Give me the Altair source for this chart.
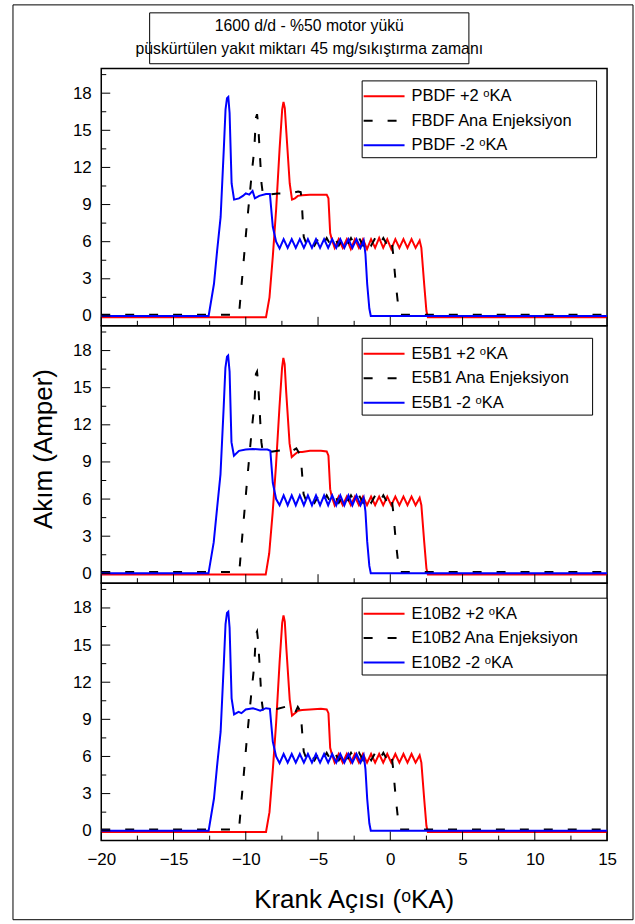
import altair as alt
import pandas as pd

FONT = "Liberation Sans"
X_DOMAIN = [-20, 15]
Y_DOMAIN = [-0.8, 20]
X_LABELS = [-20, -15, -10, -5, 0, 5, 10, 15]
X_MINOR = [-17.5, -12.5, -7.5, -2.5, 2.5, 7.5, 12.5]
Y_LABELS = [0, 3, 6, 9, 12, 15, 18]
Y_MINOR = [1.5, 4.5, 7.5, 10.5, 13.5, 16.5, 19.5]

TITLE_LINES = ["1600 d/d - %50 motor yükü",
               "püskürtülen yakıt miktarı 45 mg/sıkıştırma zamanı"]
X_TITLE = "Krank Açısı (ᵒKA)"
Y_TITLE = "Akım (Amper)"

LEG1 = ["PBDF +2 ᵒKA", "FBDF Ana Enjeksiyon", "PBDF -2 ᵒKA"]
LEG2 = ["E5B1 +2 ᵒKA", "E5B1 Ana Enjeksiyon", "E5B1 -2 ᵒKA"]
LEG3 = ["E10B2 +2 ᵒKA", "E10B2 Ana Enjeksiyon", "E10B2 -2 ᵒKA"]

# [crank angle, current] pairs
P1_RED = [[-20, -0.1], [-8.60, -0.1], [-8.36, 1.5], [-8.13, 4.8], [-7.90, 8.6], [-7.66, 13.5], [-7.48, 16.7],
          [-7.39, 17.3], [-7.30, 16.8], [-7.19, 14.8], [-6.96, 10.7], [-6.80, 9.4], [-6.60, 9.5], [-6.40, 9.7],
          [-6.10, 9.75], [-5.56, 9.8], [-4.80, 9.8], [-4.40, 9.8], [-4.28, 9.5], [-4.16, 6.7], [-4.05, 6.2],
          [-3.85, 5.5], [-3.57, 6.2], [-3.29, 5.5], [-3.01, 6.2], [-2.73, 5.4], [-2.45, 6.2], [-2.17, 5.5],
          [-1.89, 6.2], [-1.61, 5.4], [-1.33, 6.2], [-1.05, 5.5], [-0.77, 6.3], [-0.49, 5.5], [-0.21, 6.2],
          [0.07, 5.4], [0.35, 6.2], [0.63, 5.5], [0.91, 6.2], [1.19, 5.5], [1.47, 6.2], [1.75, 5.5], [2.03, 6.1],
          [2.15, 5.5], [2.35, 2.5], [2.50, 0.4], [2.60, -0.1], [15, -0.1]]
P1_BLACK = [[-20, 0.1], [-10.47, 0.1], [-10.30, 2.4], [-10.12, 4.8], [-9.95, 7.1], [-9.76, 9.4], [-9.58, 11.6],
            [-9.41, 13.5], [-9.30, 16.0], [-9.22, 16.3], [-9.15, 15.6], [-9.07, 14.0], [-8.91, 10.7], [-8.79, 9.6],
            [-8.60, 9.7], [-8.36, 9.8], [-7.78, 9.9], [-6.96, 9.9], [-6.38, 10.05], [-6.20, 10.0], [-6.14, 9.5],
            [-6.07, 8.0], [-5.99, 6.4], [-5.80, 5.8], [-5.52, 6.3], [-5.24, 5.7], [-4.96, 6.3], [-4.68, 5.7],
            [-4.40, 6.3], [-4.12, 5.7], [-3.84, 6.3], [-3.56, 5.7], [-3.28, 6.3], [-3.00, 5.7], [-2.72, 6.3],
            [-2.44, 5.7], [-2.16, 6.3], [-1.88, 5.7], [-1.60, 6.3], [-1.32, 5.7], [-1.04, 6.3], [-0.76, 5.7],
            [-0.48, 6.3], [-0.20, 5.7], [0.08, 6.2], [0.20, 5.0], [0.38, 2.6], [0.54, 0.9], [0.62, 0.1], [15, 0.1]]
P1_BLUE = [[-20, 0], [-12.57, 0], [-12.20, 2.6], [-11.98, 5.3], [-11.74, 8.0], [-11.52, 13.5], [-11.40, 16.7],
           [-11.30, 17.6], [-11.21, 17.7], [-11.12, 16.4], [-10.98, 10.7], [-10.81, 9.4], [-10.47, 9.5],
           [-10.20, 9.7], [-10.00, 9.9], [-9.76, 9.8], [-9.53, 10.1], [-9.37, 9.5], [-9.07, 9.7], [-8.60, 9.85],
           [-8.33, 9.85], [-8.13, 7.2], [-7.90, 6.0], [-7.66, 5.45], [-7.38, 6.2], [-7.10, 5.5], [-6.82, 6.2],
           [-6.54, 5.5], [-6.26, 6.2], [-5.98, 5.5], [-5.70, 6.2], [-5.42, 5.5], [-5.14, 6.2], [-4.86, 5.5],
           [-4.58, 6.2], [-4.30, 5.5], [-4.02, 6.2], [-3.74, 5.5], [-3.46, 6.2], [-3.18, 5.5], [-2.90, 6.2],
           [-2.62, 5.5], [-2.34, 6.2], [-2.06, 5.5], [-1.84, 6.1], [-1.72, 5.0], [-1.60, 2.6], [-1.45, 0.6],
           [-1.35, 0], [15, 0]]

P2_RED = [[-20, -0.1], [-8.62, -0.1], [-8.38, 1.6], [-8.14, 4.9], [-7.91, 8.7], [-7.67, 13.4], [-7.49, 16.6],
          [-7.40, 17.4], [-7.31, 16.9], [-7.20, 14.6], [-6.97, 10.5], [-6.82, 9.4], [-6.62, 9.6], [-6.40, 9.8],
          [-6.10, 9.8], [-5.56, 9.9], [-4.80, 9.9], [-4.40, 9.85], [-4.28, 9.5], [-4.16, 6.8], [-4.05, 6.2],
          [-3.85, 5.5], [-3.57, 6.2], [-3.29, 5.5], [-3.01, 6.2], [-2.73, 5.5], [-2.45, 6.2], [-2.17, 5.5],
          [-1.89, 6.2], [-1.61, 5.5], [-1.33, 6.2], [-1.05, 5.5], [-0.77, 6.2], [-0.49, 5.5], [-0.21, 6.2],
          [0.07, 5.5], [0.35, 6.2], [0.63, 5.5], [0.91, 6.2], [1.19, 5.5], [1.47, 6.2], [1.75, 5.5], [2.03, 6.1],
          [2.15, 5.5], [2.35, 2.5], [2.50, 0.4], [2.60, -0.1], [15, -0.1]]
P2_BLACK = [[-20, 0.1], [-10.45, 0.1], [-10.28, 2.5], [-10.10, 4.9], [-9.93, 7.2], [-9.75, 9.5], [-9.57, 11.8],
            [-9.40, 13.7], [-9.30, 16.1], [-9.22, 16.3], [-9.15, 15.5], [-9.07, 13.8], [-8.92, 10.6], [-8.80, 9.6],
            [-8.60, 9.7], [-8.36, 9.8], [-7.78, 9.9], [-7.20, 10.0], [-6.90, 9.8], [-6.50, 10.1], [-6.20, 9.5],
            [-6.10, 8.0], [-6.00, 6.4], [-5.80, 5.8], [-5.52, 6.3], [-5.24, 5.7], [-4.96, 6.3], [-4.68, 5.7],
            [-4.40, 6.3], [-4.12, 5.7], [-3.84, 6.3], [-3.56, 5.7], [-3.28, 6.3], [-3.00, 5.7], [-2.72, 6.3],
            [-2.44, 5.7], [-2.16, 6.3], [-1.88, 5.7], [-1.60, 6.3], [-1.32, 5.7], [-1.04, 6.3], [-0.76, 5.7],
            [-0.48, 6.3], [-0.20, 5.7], [0.08, 6.2], [0.20, 5.0], [0.38, 2.6], [0.54, 0.9], [0.62, 0.1], [15, 0.1]]
P2_BLUE = [[-20, 0], [-12.58, 0], [-12.22, 2.5], [-11.99, 5.2], [-11.75, 8.0], [-11.53, 13.4], [-11.41, 16.6],
           [-11.30, 17.5], [-11.22, 17.6], [-11.12, 16.3], [-10.99, 10.6], [-10.82, 9.5], [-10.47, 9.9],
           [-10.00, 10.0], [-9.50, 10.05], [-9.00, 10.0], [-8.50, 10.0], [-8.30, 9.9], [-8.13, 7.3], [-7.90, 6.0],
           [-7.66, 5.5], [-7.38, 6.3], [-7.10, 5.5], [-6.82, 6.3], [-6.54, 5.5], [-6.26, 6.3], [-5.98, 5.5],
           [-5.70, 6.3], [-5.42, 5.5], [-5.14, 6.3], [-4.86, 5.5], [-4.58, 6.3], [-4.30, 5.5], [-4.02, 6.3],
           [-3.74, 5.5], [-3.46, 6.3], [-3.18, 5.5], [-2.90, 6.3], [-2.62, 5.5], [-2.34, 6.3], [-2.06, 5.5],
           [-1.84, 6.1], [-1.72, 5.0], [-1.60, 2.6], [-1.45, 0.6], [-1.35, 0], [15, 0]]

P3_RED = [[-20, -0.1], [-8.60, -0.1], [-8.36, 1.5], [-8.13, 4.9], [-7.90, 8.7], [-7.66, 13.6], [-7.48, 16.8],
          [-7.39, 17.4], [-7.30, 16.9], [-7.19, 14.7], [-6.96, 10.6], [-6.80, 9.3], [-6.60, 9.5], [-6.40, 9.7],
          [-6.10, 9.75], [-5.56, 9.8], [-4.80, 9.85], [-4.40, 9.8], [-4.28, 9.5], [-4.16, 6.7], [-4.05, 6.2],
          [-3.85, 5.5], [-3.57, 6.2], [-3.29, 5.5], [-3.01, 6.2], [-2.73, 5.5], [-2.45, 6.2], [-2.17, 5.5],
          [-1.89, 6.2], [-1.61, 5.5], [-1.33, 6.2], [-1.05, 5.5], [-0.77, 6.2], [-0.49, 5.5], [-0.21, 6.2],
          [0.07, 5.5], [0.35, 6.2], [0.63, 5.5], [0.91, 6.2], [1.19, 5.5], [1.47, 6.2], [1.75, 5.5], [2.03, 6.1],
          [2.15, 5.5], [2.35, 2.5], [2.50, 0.4], [2.60, -0.1], [15, -0.1]]
P3_BLACK = [[-20, 0.1], [-10.47, 0.1], [-10.30, 2.4], [-10.12, 4.8], [-9.95, 7.1], [-9.76, 9.4], [-9.58, 11.5],
            [-9.41, 13.4], [-9.30, 15.9], [-9.22, 16.1], [-9.15, 15.4], [-9.07, 13.9], [-8.91, 10.6], [-8.79, 9.6],
            [-8.60, 9.7], [-8.36, 9.8], [-7.78, 9.85], [-7.00, 10.1], [-6.80, 9.7], [-6.60, 9.5], [-6.40, 10.0],
            [-6.20, 9.6], [-6.10, 8.0], [-5.99, 6.4], [-5.80, 5.8], [-5.52, 6.3], [-5.24, 5.7], [-4.96, 6.3],
            [-4.68, 5.7], [-4.40, 6.3], [-4.12, 5.7], [-3.84, 6.3], [-3.56, 5.7], [-3.28, 6.3], [-3.00, 5.7],
            [-2.72, 6.3], [-2.44, 5.7], [-2.16, 6.3], [-1.88, 5.7], [-1.60, 6.3], [-1.32, 5.7], [-1.04, 6.3],
            [-0.76, 5.7], [-0.48, 6.3], [-0.20, 5.7], [0.08, 6.2], [0.20, 5.0], [0.38, 2.6], [0.54, 0.9],
            [0.62, 0.1], [15, 0.1]]
P3_BLUE = [[-20, 0], [-12.57, 0], [-12.20, 2.6], [-11.98, 5.3], [-11.74, 8.0], [-11.52, 13.5], [-11.40, 16.7],
           [-11.30, 17.6], [-11.21, 17.7], [-11.12, 16.4], [-10.98, 10.7], [-10.81, 9.4], [-10.50, 9.6],
           [-10.30, 9.5], [-10.00, 9.8], [-9.50, 9.9], [-9.00, 9.7], [-8.60, 9.9], [-8.33, 9.85], [-8.13, 7.2],
           [-7.90, 6.0], [-7.66, 5.45], [-7.38, 6.2], [-7.10, 5.5], [-6.82, 6.2], [-6.54, 5.5], [-6.26, 6.2],
           [-5.98, 5.5], [-5.70, 6.2], [-5.42, 5.5], [-5.14, 6.2], [-4.86, 5.5], [-4.58, 6.2], [-4.30, 5.5],
           [-4.02, 6.2], [-3.74, 5.5], [-3.46, 6.2], [-3.18, 5.5], [-2.90, 6.2], [-2.62, 5.5], [-2.34, 6.2],
           [-2.06, 5.5], [-1.84, 6.1], [-1.72, 5.0], [-1.60, 2.6], [-1.45, 0.6], [-1.35, 0], [15, 0]]

RED = "#ff0000"
BLUE = "#0000ff"
BLACK = "#000000"
DASH = [9, 15]

W = 507
H = 258

xsc = alt.Scale(domain=X_DOMAIN, nice=False, zero=False)
ysc = alt.Scale(domain=Y_DOMAIN, nice=False, zero=False)
ONE = pd.DataFrame({"k": [0]})


def x_axis(labels):
    if not labels:
        return None
    return alt.Axis(values=X_LABELS, title=None, labelFontSize=17, labelPadding=11,
                    labelFlush=False, labelOverlap=False)


Y_AXIS = alt.Axis(values=Y_LABELS, title=None, labelFontSize=17, labelPadding=10,
                  labelFlush=False, labelOverlap=False)


def series(pairs, color, dashed, xl):
    df = pd.DataFrame(pairs, columns=["x", "y"])
    kw = dict(color=color, strokeWidth=2, clip=True)
    if dashed:
        kw["strokeDash"] = DASH
    return alt.Chart(df).mark_line(**kw).encode(
        x=alt.X("x:Q", scale=xsc, axis=x_axis(xl)),
        y=alt.Y("y:Q", scale=ysc, axis=Y_AXIS))


def xticks(vals, length, xl):
    return alt.Chart(pd.DataFrame({"x": vals})).mark_rule(color="black", strokeWidth=1).encode(
        x=alt.X("x:Q", scale=xsc, axis=x_axis(xl)), y=alt.value(H), y2=alt.value(H - length))


def yticks(vals, length):
    return alt.Chart(pd.DataFrame({"y": vals})).mark_rule(color="black", strokeWidth=1).encode(
        y=alt.Y("y:Q", scale=ysc, axis=Y_AXIS), x=alt.value(0), x2=alt.value(length))


def hrule(x1, x2, y, color="black", width=1, dash=None):
    kw = dict(color=color, strokeWidth=width)
    if dash:
        kw["strokeDash"] = dash
    return alt.Chart(ONE).mark_rule(**kw).encode(x=alt.value(x1), x2=alt.value(x2), y=alt.value(y))


def vrule(x, y1, y2, width=1):
    return alt.Chart(ONE).mark_rule(color="black", strokeWidth=width).encode(
        x=alt.value(x), y=alt.value(y1), y2=alt.value(y2))


def box(x1, x2, y1, y2):
    return alt.Chart(ONE).mark_rect(fill="white", stroke="black", strokeWidth=1).encode(
        x=alt.value(x1), x2=alt.value(x2), y=alt.value(y1), y2=alt.value(y2))


def text(s, x, y, size, align="center", angle=0):
    kw = dict(align=align, baseline="middle", fontSize=size, color="black", font=FONT)
    if angle:
        kw["angle"] = angle
    return alt.Chart(ONE).mark_text(**kw).encode(x=alt.value(x), y=alt.value(y), text=alt.value(s))


def legend(labels, bx2, y0):
    rows = [y0 + 15.5, y0 + 40, y0 + 64.5]
    layers = [box(261.5, bx2, y0, y0 + 77)]
    styles = [(RED, None), (BLACK, DASH), (BLUE, None)]
    for (c, d), r, lab in zip(styles, rows, labels):
        layers.append(hrule(263, 304, r, color=c, width=2, dash=d))
        layers.append(text(lab, 311, r, 16.5, align="left"))
    return layers


def panel(red, black, blue, labels, xl, bx2, y0, extra):
    layers = [series(red, RED, False, xl), series(black, BLACK, True, xl), series(blue, BLUE, False, xl),
              xticks(X_LABELS, 9, xl), xticks(X_MINOR, 5, xl),
              yticks(Y_LABELS, 9), yticks(Y_MINOR, 5)]
    layers += legend(labels, bx2, y0)
    layers += extra
    return alt.layer(*layers).properties(width=W, height=H)


LEFT = -88.5
RIGHT = 533
extra1 = [
    hrule(LEFT, RIGHT, -63.7),
    vrule(LEFT, -63.7, 853.3),
    vrule(RIGHT, -63.7, 853.3),
    box(48.5, 368.5, -55.7, -4.7),
    text(TITLE_LINES[0], 208.5, -42.5, 15.8),
    text(TITLE_LINES[1], 208.5, -19.5, 15.8),
]
extra2 = [text(Y_TITLE, -57.5, 123.5, 26, angle=270)]
extra3 = [
    hrule(LEFT, RIGHT, 337.3),
    text(X_TITLE, W / 2, 317.5, 26),
]

p1 = panel(P1_RED, P1_BLACK, P1_BLUE, LEG1, False, 496.5, 12.5, extra1)
p2 = panel(P2_RED, P2_BLACK, P2_BLUE, LEG2, False, 492.5, 12.5, extra2)
p3 = panel(P3_RED, P3_BLACK, P3_BLUE, LEG3, True, 507, 15, extra3)

chart = alt.vconcat(p1, p2, p3, spacing=0, bounds="flush").properties(
    padding={"left": 11.5, "top": 2.5, "right": 0, "bottom": 0},
    background="white",
).configure_view(
    stroke="black", strokeWidth=1.5
).configure_axis(
    ticks=False, domain=False, grid=False, labelFont=FONT, labelColor="black"
).configure_text(font=FONT)

chart.save("out.html", embed_options={"renderer": "svg", "actions": False})
